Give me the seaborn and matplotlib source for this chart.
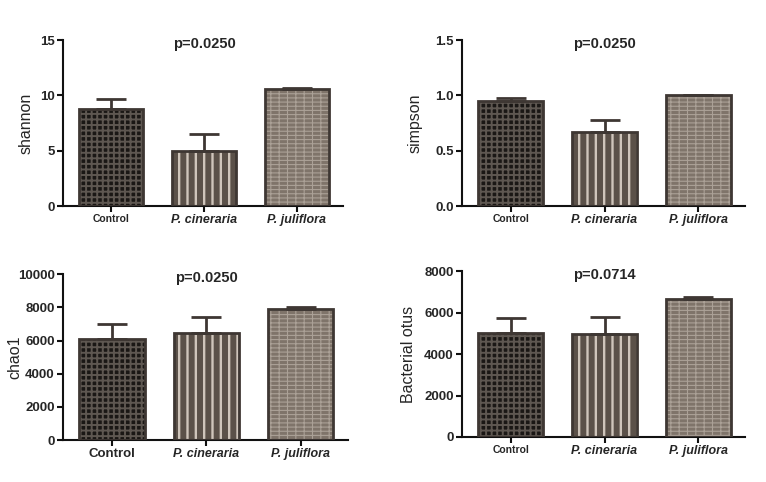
import matplotlib
matplotlib.use("Agg")
import matplotlib.pyplot as plt
import matplotlib.patches as mpatches
import seaborn as sns
import pandas as pd
import numpy as np

groups = ["Control", "P. cineraria", "P. juliflora"]

shannon_mean = [8.75, 5.0, 10.55]
shannon_err = [0.9, 1.5, 0.15]
simpson_mean = [0.95, 0.67, 1.0]
simpson_err = [0.03, 0.11, 0.003]
chao1_mean = [6100, 6450, 7900]
chao1_err = [900, 950, 100]
otus_mean = [5000, 4950, 6650]
otus_err = [750, 850, 100]

panels = [
    ("shannon", shannon_mean, shannon_err, [0, 5, 10, 15], "p=0.0250"),
    ("simpson", simpson_mean, simpson_err, [0.0, 0.5, 1.0, 1.5], "p=0.0250"),
    ("chao1", chao1_mean, chao1_err, [0, 2000, 4000, 6000, 8000, 10000], "p=0.0250"),
    ("Bacterial otus", otus_mean, otus_err, [0, 2000, 4000, 6000, 8000], "p=0.0714"),
]
ytick_fmt = ["{:.0f}", "{:.1f}", "{:.0f}", "{:.0f}"]
ylabel_x = [-0.104, -0.138, -0.144, -0.163]

sns.set_theme(style="ticks")
plt.rcParams['font.family'] = ['Liberation Sans', 'DejaVu Sans']
plt.rcParams['hatch.linewidth'] = 1.5

fig = plt.figure(figsize=(7.66, 4.82), dpi=100)
positions = [
    [0.0822, 0.5726, 0.366, 0.344],
    [0.603, 0.5726, 0.370, 0.344],
    [0.0822, 0.0871, 0.372, 0.344],
    [0.603, 0.0934, 0.370, 0.344],
]

face = ["#1a1715", "#5b5149", "#7f746a"]
hatchcol = ["#5e5751", "#cfc5bb", "#aba197"]
hatches = ["+++", "||", "----||"]
hatch_lw = [1.4, 1.7, 0.8]
edge = "#3e3733"

for i, (lab, means, errs, yt, ptxt) in enumerate(panels):
    ax = fig.add_axes(positions[i])
    df = pd.DataFrame({"group": groups, "value": means})
    sns.barplot(data=df, x="group", y="value", hue="group", palette=face,
                width=0.69, legend=False, ax=ax, errorbar=None, saturation=1)
    for j, p in enumerate(ax.patches[:3]):
        p.set_hatch(hatches[j])
        p.set_edgecolor(hatchcol[j])
        p.set_linewidth(0)
        if hasattr(p, "set_hatch_linewidth"):
            p.set_hatch_linewidth(hatch_lw[j])
        x0, y0 = p.get_xy()
        r = mpatches.Rectangle((x0, y0), p.get_width(), p.get_height(),
                               fill=False, edgecolor=edge, linewidth=2.0, zorder=4)
        ax.add_patch(r)
    ax.errorbar(np.arange(3), means, yerr=[np.zeros(3), errs], fmt="none",
                ecolor=edge, elinewidth=2.0, capsize=11, capthick=2.0, zorder=1)
    ax.set_xlim(-0.52, 2.5)
    ax.set_ylim(yt[0], yt[-1])
    ax.set_yticks(yt)
    ax.set_yticklabels([ytick_fmt[i].format(v) for v in yt], fontsize=9.5, fontweight="bold")
    ax.set_xlabel("")
    ax.set_ylabel(lab, fontsize=11.5)
    ax.yaxis.set_label_coords(ylabel_x[i], 0.5)
    sns.despine(ax=ax)
    for s in ["left", "bottom"]:
        ax.spines[s].set_linewidth(1.5)
        ax.spines[s].set_color("#111111")
    ax.tick_params(axis="both", width=1.5, length=4, color="#111111", pad=2)
    ax.set_xticks([0, 1, 2])
    ctl_size = 9.5 if i == 2 else 7.5
    ax.set_xticklabels(groups)
    tl = ax.get_xticklabels()
    tl[0].set_fontsize(ctl_size)
    tl[0].set_fontweight("bold")
    for t in tl[1:]:
        t.set_fontsize(9)
        t.set_fontweight("bold")
        t.set_fontstyle("italic")
    ax.text(1, 0.975, ptxt, transform=ax.get_xaxis_transform(), ha="center",
            va="center", fontsize=10.5, fontweight="bold")

fig.savefig("out.png", dpi=100)
